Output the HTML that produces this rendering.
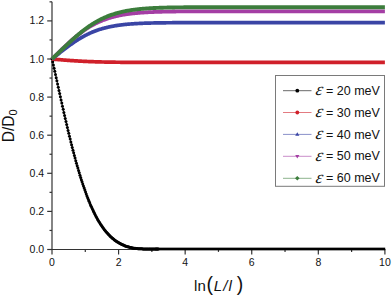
<!DOCTYPE html>
<html><head><meta charset="utf-8"><style>
html,body{margin:0;padding:0;background:#fff;}
body{width:392px;height:297px;overflow:hidden;}
svg{display:block;font-family:"Liberation Sans",sans-serif;fill:#111;}
</style></head><body>
<svg width="392" height="297" viewBox="0 0 392 297">
<rect width="392" height="297" fill="#fff"/>
<line x1="52.0" y1="1.85" x2="52.0" y2="249.5" stroke="#333" stroke-width="1.2"/>
<line x1="51.4" y1="249.5" x2="385.4" y2="249.5" stroke="#333" stroke-width="1.2"/>
<line x1="47.20" y1="249.50" x2="52.0" y2="249.50" stroke="#333" stroke-width="1.2"/>
<line x1="49.50" y1="230.45" x2="52.0" y2="230.45" stroke="#333" stroke-width="1.2"/>
<line x1="47.20" y1="211.40" x2="52.0" y2="211.40" stroke="#333" stroke-width="1.2"/>
<line x1="49.50" y1="192.35" x2="52.0" y2="192.35" stroke="#333" stroke-width="1.2"/>
<line x1="47.20" y1="173.30" x2="52.0" y2="173.30" stroke="#333" stroke-width="1.2"/>
<line x1="49.50" y1="154.25" x2="52.0" y2="154.25" stroke="#333" stroke-width="1.2"/>
<line x1="47.20" y1="135.20" x2="52.0" y2="135.20" stroke="#333" stroke-width="1.2"/>
<line x1="49.50" y1="116.15" x2="52.0" y2="116.15" stroke="#333" stroke-width="1.2"/>
<line x1="47.20" y1="97.10" x2="52.0" y2="97.10" stroke="#333" stroke-width="1.2"/>
<line x1="49.50" y1="78.05" x2="52.0" y2="78.05" stroke="#333" stroke-width="1.2"/>
<line x1="47.20" y1="59.00" x2="52.0" y2="59.00" stroke="#333" stroke-width="1.2"/>
<line x1="49.50" y1="39.95" x2="52.0" y2="39.95" stroke="#333" stroke-width="1.2"/>
<line x1="47.20" y1="20.90" x2="52.0" y2="20.90" stroke="#333" stroke-width="1.2"/>
<line x1="49.50" y1="1.85" x2="52.0" y2="1.85" stroke="#333" stroke-width="1.2"/>
<line x1="52.00" y1="249.5" x2="52.00" y2="254.50" stroke="#333" stroke-width="1.2"/>
<line x1="85.29" y1="249.5" x2="85.29" y2="251.90" stroke="#333" stroke-width="1.2"/>
<line x1="118.58" y1="249.5" x2="118.58" y2="254.50" stroke="#333" stroke-width="1.2"/>
<line x1="151.87" y1="249.5" x2="151.87" y2="251.90" stroke="#333" stroke-width="1.2"/>
<line x1="185.16" y1="249.5" x2="185.16" y2="254.50" stroke="#333" stroke-width="1.2"/>
<line x1="218.45" y1="249.5" x2="218.45" y2="251.90" stroke="#333" stroke-width="1.2"/>
<line x1="251.74" y1="249.5" x2="251.74" y2="254.50" stroke="#333" stroke-width="1.2"/>
<line x1="285.03" y1="249.5" x2="285.03" y2="251.90" stroke="#333" stroke-width="1.2"/>
<line x1="318.32" y1="249.5" x2="318.32" y2="254.50" stroke="#333" stroke-width="1.2"/>
<line x1="351.61" y1="249.5" x2="351.61" y2="251.90" stroke="#333" stroke-width="1.2"/>
<line x1="384.90" y1="249.5" x2="384.90" y2="254.50" stroke="#333" stroke-width="1.2"/>
<text x="44.2" y="253.00" text-anchor="end" font-size="10.5">0.0</text>
<text x="44.2" y="214.90" text-anchor="end" font-size="10.5">0.2</text>
<text x="44.2" y="176.80" text-anchor="end" font-size="10.5">0.4</text>
<text x="44.2" y="138.70" text-anchor="end" font-size="10.5">0.6</text>
<text x="44.2" y="100.60" text-anchor="end" font-size="10.5">0.8</text>
<text x="44.2" y="62.50" text-anchor="end" font-size="10.5">1.0</text>
<text x="44.2" y="24.40" text-anchor="end" font-size="10.5">1.2</text>
<text x="52.00" y="266" text-anchor="middle" font-size="10.5">0</text>
<text x="118.58" y="266" text-anchor="middle" font-size="10.5">2</text>
<text x="185.16" y="266" text-anchor="middle" font-size="10.5">4</text>
<text x="251.74" y="266" text-anchor="middle" font-size="10.5">6</text>
<text x="318.32" y="266" text-anchor="middle" font-size="10.5">8</text>
<text x="384.90" y="266" text-anchor="middle" font-size="10.5">10</text>
<path d="M52.00,58.65 L52.70,61.80 L53.40,64.96 L54.10,68.13 L54.80,71.31 L55.50,74.49 L56.19,77.68 L56.89,80.87 L57.59,84.06 L58.29,87.24 L58.99,90.43 L59.69,93.60 L60.39,96.76 L61.09,99.92 L61.79,103.06 L62.49,106.18 L63.19,109.29 L63.88,112.38 L64.58,115.45 L65.28,118.50 L65.98,121.52 L66.68,124.52 L67.38,127.49 L68.08,130.44 L68.78,133.35 L69.48,136.24 L70.18,139.09 L70.88,141.91 L71.57,144.69 L72.27,147.44 L72.97,150.16 L73.67,152.83 L74.37,155.47 L75.07,158.07 L75.77,160.63 L76.47,163.16 L77.17,165.64 L77.87,168.07 L78.57,170.47 L79.26,172.83 L79.96,175.14 L80.66,177.41 L81.36,179.64 L82.06,181.82 L82.76,183.96 L83.46,186.06 L84.16,188.11 L84.86,190.12 L85.56,192.08 L86.26,194.00 L86.95,195.88 L87.65,197.72 L88.35,199.51 L89.05,201.26 L89.75,202.96 L90.45,204.63 L91.15,206.25 L91.85,207.83 L92.55,209.37 L93.25,210.87 L93.95,212.32 L94.64,213.74 L95.34,215.12 L96.04,216.46 L96.74,217.76 L97.44,219.02 L98.14,220.25 L98.84,221.44 L99.54,222.59 L100.24,223.71 L100.94,224.79 L101.64,225.84 L102.33,226.86 L103.03,227.84 L103.73,228.79 L104.43,229.71 L105.13,230.60 L105.83,231.45 L106.53,232.28 L107.23,233.08 L107.93,233.85 L108.63,234.60 L109.33,235.31 L110.02,236.01 L110.72,236.67 L111.42,237.31 L112.12,237.93 L112.82,238.52 L113.52,239.09 L114.22,239.64 L114.92,240.17 L115.62,240.68 L116.32,241.17 L117.02,241.63 L117.71,242.08 L118.41,242.51 L119.11,242.92 L119.81,243.32 L120.51,243.69 L121.21,244.06 L121.91,244.40 L122.61,244.73 L123.31,245.05 L124.01,245.35 L124.71,245.64 L125.40,245.91 L126.10,246.17 L126.80,246.42 L127.50,246.65 L128.20,246.87 L128.90,247.08 L129.60,247.27 L130.30,247.45 L131.00,247.62 L131.70,247.77 L132.40,247.91 L133.09,248.04 L133.79,248.15 L134.49,248.26 L135.19,248.35 L135.89,248.44 L136.59,248.51 L137.29,248.58 L137.99,248.63 L138.69,248.69 L139.39,248.73 L140.09,248.77 L140.78,248.81 L141.48,248.84 L142.18,248.86 L142.88,248.89 L143.58,248.91 L144.28,248.93 L144.98,248.94 L145.68,248.96 L146.38,248.97 L147.08,248.98 L147.78,248.99 L148.47,249.00 L149.17,249.01 L149.87,249.01 L150.57,249.02 L151.27,249.03 L151.97,249.03 L152.67,249.04 L153.37,249.04 L154.07,249.05 L154.77,249.05 L155.47,249.05 L156.16,249.06 L156.86,249.06 L157.56,249.06 L158.26,249.06" fill="none" stroke="#000" stroke-width="0.8"/>
<circle cx="52.00" cy="58.65" r="1.5" fill="#000"/>
<circle cx="52.70" cy="61.80" r="1.5" fill="#000"/>
<circle cx="53.40" cy="64.96" r="1.5" fill="#000"/>
<circle cx="54.10" cy="68.13" r="1.5" fill="#000"/>
<circle cx="54.80" cy="71.31" r="1.5" fill="#000"/>
<circle cx="55.50" cy="74.49" r="1.5" fill="#000"/>
<circle cx="56.19" cy="77.68" r="1.5" fill="#000"/>
<circle cx="56.89" cy="80.87" r="1.5" fill="#000"/>
<circle cx="57.59" cy="84.06" r="1.5" fill="#000"/>
<circle cx="58.29" cy="87.24" r="1.5" fill="#000"/>
<circle cx="58.99" cy="90.43" r="1.5" fill="#000"/>
<circle cx="59.69" cy="93.60" r="1.5" fill="#000"/>
<circle cx="60.39" cy="96.76" r="1.5" fill="#000"/>
<circle cx="61.09" cy="99.92" r="1.5" fill="#000"/>
<circle cx="61.79" cy="103.06" r="1.5" fill="#000"/>
<circle cx="62.49" cy="106.18" r="1.5" fill="#000"/>
<circle cx="63.19" cy="109.29" r="1.5" fill="#000"/>
<circle cx="63.88" cy="112.38" r="1.5" fill="#000"/>
<circle cx="64.58" cy="115.45" r="1.5" fill="#000"/>
<circle cx="65.28" cy="118.50" r="1.5" fill="#000"/>
<circle cx="65.98" cy="121.52" r="1.5" fill="#000"/>
<circle cx="66.68" cy="124.52" r="1.5" fill="#000"/>
<circle cx="67.38" cy="127.49" r="1.5" fill="#000"/>
<circle cx="68.08" cy="130.44" r="1.5" fill="#000"/>
<circle cx="68.78" cy="133.35" r="1.5" fill="#000"/>
<circle cx="69.48" cy="136.24" r="1.5" fill="#000"/>
<circle cx="70.18" cy="139.09" r="1.5" fill="#000"/>
<circle cx="70.88" cy="141.91" r="1.5" fill="#000"/>
<circle cx="71.57" cy="144.69" r="1.5" fill="#000"/>
<circle cx="72.27" cy="147.44" r="1.5" fill="#000"/>
<circle cx="72.97" cy="150.16" r="1.5" fill="#000"/>
<circle cx="73.67" cy="152.83" r="1.5" fill="#000"/>
<circle cx="74.37" cy="155.47" r="1.5" fill="#000"/>
<circle cx="75.07" cy="158.07" r="1.5" fill="#000"/>
<circle cx="75.77" cy="160.63" r="1.5" fill="#000"/>
<circle cx="76.47" cy="163.16" r="1.5" fill="#000"/>
<circle cx="77.17" cy="165.64" r="1.5" fill="#000"/>
<circle cx="77.87" cy="168.07" r="1.5" fill="#000"/>
<circle cx="78.57" cy="170.47" r="1.5" fill="#000"/>
<circle cx="79.26" cy="172.83" r="1.5" fill="#000"/>
<circle cx="79.96" cy="175.14" r="1.5" fill="#000"/>
<circle cx="80.66" cy="177.41" r="1.5" fill="#000"/>
<circle cx="81.36" cy="179.64" r="1.5" fill="#000"/>
<circle cx="82.06" cy="181.82" r="1.5" fill="#000"/>
<circle cx="82.76" cy="183.96" r="1.5" fill="#000"/>
<circle cx="83.46" cy="186.06" r="1.5" fill="#000"/>
<circle cx="84.16" cy="188.11" r="1.5" fill="#000"/>
<circle cx="84.86" cy="190.12" r="1.5" fill="#000"/>
<circle cx="85.56" cy="192.08" r="1.5" fill="#000"/>
<circle cx="86.26" cy="194.00" r="1.5" fill="#000"/>
<circle cx="86.95" cy="195.88" r="1.5" fill="#000"/>
<circle cx="87.65" cy="197.72" r="1.5" fill="#000"/>
<circle cx="88.35" cy="199.51" r="1.5" fill="#000"/>
<circle cx="89.05" cy="201.26" r="1.5" fill="#000"/>
<circle cx="89.75" cy="202.96" r="1.5" fill="#000"/>
<circle cx="90.45" cy="204.63" r="1.5" fill="#000"/>
<circle cx="91.15" cy="206.25" r="1.5" fill="#000"/>
<circle cx="91.85" cy="207.83" r="1.5" fill="#000"/>
<circle cx="92.55" cy="209.37" r="1.5" fill="#000"/>
<circle cx="93.25" cy="210.87" r="1.5" fill="#000"/>
<circle cx="93.95" cy="212.32" r="1.5" fill="#000"/>
<circle cx="94.64" cy="213.74" r="1.5" fill="#000"/>
<circle cx="95.34" cy="215.12" r="1.5" fill="#000"/>
<circle cx="96.04" cy="216.46" r="1.5" fill="#000"/>
<circle cx="96.74" cy="217.76" r="1.5" fill="#000"/>
<circle cx="97.44" cy="219.02" r="1.5" fill="#000"/>
<circle cx="98.14" cy="220.25" r="1.5" fill="#000"/>
<circle cx="98.84" cy="221.44" r="1.5" fill="#000"/>
<circle cx="99.54" cy="222.59" r="1.5" fill="#000"/>
<circle cx="100.24" cy="223.71" r="1.5" fill="#000"/>
<circle cx="100.94" cy="224.79" r="1.5" fill="#000"/>
<circle cx="101.64" cy="225.84" r="1.5" fill="#000"/>
<circle cx="102.33" cy="226.86" r="1.5" fill="#000"/>
<circle cx="103.03" cy="227.84" r="1.5" fill="#000"/>
<circle cx="103.73" cy="228.79" r="1.5" fill="#000"/>
<circle cx="104.43" cy="229.71" r="1.5" fill="#000"/>
<circle cx="105.13" cy="230.60" r="1.5" fill="#000"/>
<circle cx="105.83" cy="231.45" r="1.5" fill="#000"/>
<circle cx="106.53" cy="232.28" r="1.5" fill="#000"/>
<circle cx="107.23" cy="233.08" r="1.5" fill="#000"/>
<circle cx="107.93" cy="233.85" r="1.5" fill="#000"/>
<circle cx="108.63" cy="234.60" r="1.5" fill="#000"/>
<circle cx="109.33" cy="235.31" r="1.5" fill="#000"/>
<circle cx="110.02" cy="236.01" r="1.5" fill="#000"/>
<circle cx="110.72" cy="236.67" r="1.5" fill="#000"/>
<circle cx="111.42" cy="237.31" r="1.5" fill="#000"/>
<circle cx="112.12" cy="237.93" r="1.5" fill="#000"/>
<circle cx="112.82" cy="238.52" r="1.5" fill="#000"/>
<circle cx="113.52" cy="239.09" r="1.5" fill="#000"/>
<circle cx="114.22" cy="239.64" r="1.5" fill="#000"/>
<circle cx="114.92" cy="240.17" r="1.5" fill="#000"/>
<circle cx="115.62" cy="240.68" r="1.5" fill="#000"/>
<circle cx="116.32" cy="241.17" r="1.5" fill="#000"/>
<circle cx="117.02" cy="241.63" r="1.5" fill="#000"/>
<circle cx="117.71" cy="242.08" r="1.5" fill="#000"/>
<circle cx="118.41" cy="242.51" r="1.5" fill="#000"/>
<circle cx="119.11" cy="242.92" r="1.5" fill="#000"/>
<circle cx="119.81" cy="243.32" r="1.5" fill="#000"/>
<circle cx="120.51" cy="243.69" r="1.5" fill="#000"/>
<circle cx="121.21" cy="244.06" r="1.5" fill="#000"/>
<circle cx="121.91" cy="244.40" r="1.5" fill="#000"/>
<circle cx="122.61" cy="244.73" r="1.5" fill="#000"/>
<circle cx="123.31" cy="245.05" r="1.5" fill="#000"/>
<circle cx="124.01" cy="245.35" r="1.5" fill="#000"/>
<circle cx="124.71" cy="245.64" r="1.5" fill="#000"/>
<circle cx="125.40" cy="245.91" r="1.5" fill="#000"/>
<circle cx="126.10" cy="246.17" r="1.5" fill="#000"/>
<circle cx="126.80" cy="246.42" r="1.5" fill="#000"/>
<circle cx="127.50" cy="246.65" r="1.5" fill="#000"/>
<circle cx="128.20" cy="246.87" r="1.5" fill="#000"/>
<circle cx="128.90" cy="247.08" r="1.5" fill="#000"/>
<circle cx="129.60" cy="247.27" r="1.5" fill="#000"/>
<circle cx="130.30" cy="247.45" r="1.5" fill="#000"/>
<circle cx="131.00" cy="247.62" r="1.5" fill="#000"/>
<circle cx="131.70" cy="247.77" r="1.5" fill="#000"/>
<circle cx="132.40" cy="247.91" r="1.5" fill="#000"/>
<circle cx="133.09" cy="248.04" r="1.5" fill="#000"/>
<circle cx="133.79" cy="248.15" r="1.5" fill="#000"/>
<circle cx="134.49" cy="248.26" r="1.5" fill="#000"/>
<circle cx="135.19" cy="248.35" r="1.5" fill="#000"/>
<circle cx="135.89" cy="248.44" r="1.5" fill="#000"/>
<circle cx="136.59" cy="248.51" r="1.5" fill="#000"/>
<circle cx="137.29" cy="248.58" r="1.5" fill="#000"/>
<circle cx="137.99" cy="248.63" r="1.5" fill="#000"/>
<circle cx="138.69" cy="248.69" r="1.5" fill="#000"/>
<circle cx="139.39" cy="248.73" r="1.5" fill="#000"/>
<circle cx="140.09" cy="248.77" r="1.5" fill="#000"/>
<circle cx="140.78" cy="248.81" r="1.5" fill="#000"/>
<circle cx="141.48" cy="248.84" r="1.5" fill="#000"/>
<circle cx="142.18" cy="248.86" r="1.5" fill="#000"/>
<circle cx="142.88" cy="248.89" r="1.5" fill="#000"/>
<circle cx="143.58" cy="248.91" r="1.5" fill="#000"/>
<circle cx="144.28" cy="248.93" r="1.5" fill="#000"/>
<circle cx="144.98" cy="248.94" r="1.5" fill="#000"/>
<circle cx="145.68" cy="248.96" r="1.5" fill="#000"/>
<circle cx="146.38" cy="248.97" r="1.5" fill="#000"/>
<circle cx="147.08" cy="248.98" r="1.5" fill="#000"/>
<circle cx="147.78" cy="248.99" r="1.5" fill="#000"/>
<circle cx="148.47" cy="249.00" r="1.5" fill="#000"/>
<circle cx="149.17" cy="249.01" r="1.5" fill="#000"/>
<circle cx="149.87" cy="249.01" r="1.5" fill="#000"/>
<circle cx="150.57" cy="249.02" r="1.5" fill="#000"/>
<circle cx="151.27" cy="249.03" r="1.5" fill="#000"/>
<circle cx="151.97" cy="249.03" r="1.5" fill="#000"/>
<circle cx="152.67" cy="249.04" r="1.5" fill="#000"/>
<circle cx="153.37" cy="249.04" r="1.5" fill="#000"/>
<circle cx="154.07" cy="249.05" r="1.5" fill="#000"/>
<circle cx="154.77" cy="249.05" r="1.5" fill="#000"/>
<circle cx="155.47" cy="249.05" r="1.5" fill="#000"/>
<circle cx="156.16" cy="249.06" r="1.5" fill="#000"/>
<circle cx="156.86" cy="249.06" r="1.5" fill="#000"/>
<circle cx="157.56" cy="249.06" r="1.5" fill="#000"/>
<circle cx="158.26" cy="249.06" r="1.5" fill="#000"/>
<rect x="155.20" y="247.65" width="230.00" height="2.7" fill="#000"/>
<path d="M52.00,59.00 L52.67,59.06 L53.33,59.12 L54.00,59.18 L54.66,59.24 L55.33,59.30 L55.99,59.36 L56.66,59.42 L57.33,59.48 L57.99,59.54 L58.66,59.60 L59.32,59.66 L59.99,59.71 L60.66,59.77 L61.32,59.83 L61.99,59.88 L62.65,59.94 L63.32,59.99 L63.98,60.04 L64.65,60.10 L65.32,60.15 L65.98,60.20 L66.65,60.25 L67.31,60.30 L67.98,60.35 L68.64,60.40 L69.31,60.45 L69.98,60.50 L70.64,60.54 L71.31,60.59 L71.97,60.64 L72.64,60.68 L73.31,60.72 L73.97,60.77 L74.64,60.81 L75.30,60.85 L75.97,60.89 L76.63,60.93 L77.30,60.97 L77.97,61.01 L78.63,61.05 L79.30,61.09 L79.96,61.13 L80.63,61.16 L81.30,61.20 L81.96,61.23 L82.63,61.27 L83.29,61.30 L83.96,61.33 L84.62,61.36 L85.29,61.40 L85.96,61.43 L86.62,61.46 L87.29,61.49 L87.95,61.51 L88.62,61.54 L89.28,61.57 L89.95,61.60 L90.62,61.62 L91.28,61.65 L91.95,61.67 L92.61,61.70 L93.28,61.72 L93.95,61.74 L94.61,61.77 L95.28,61.79 L95.94,61.81 L96.61,61.83 L97.27,61.85 L97.94,61.87 L98.61,61.89 L99.27,61.91 L99.94,61.93 L100.60,61.94 L101.27,61.96 L101.94,61.98 L102.60,61.99 L103.27,62.01 L103.93,62.02 L104.60,62.04 L105.26,62.05 L105.93,62.07 L106.60,62.08 L107.26,62.09 L107.93,62.10 L108.59,62.12 L109.26,62.13 L109.92,62.14 L110.59,62.15 L111.26,62.16 L111.92,62.17 L112.59,62.18 L113.25,62.19 L113.92,62.20 L114.59,62.21 L115.25,62.22 L115.92,62.23 L116.58,62.24 L117.25,62.24 L117.91,62.25 L118.58,62.26 L119.25,62.27 L119.91,62.27 L120.58,62.28 L121.24,62.28 L121.91,62.29 L122.57,62.30 L123.24,62.30 L123.91,62.31 L124.57,62.31 L125.24,62.32 L125.90,62.32 L126.57,62.33 L127.24,62.33 L127.90,62.34 L128.57,62.34 L129.23,62.34 L129.90,62.35 L130.56,62.35 L131.23,62.36 L131.90,62.36 L132.56,62.36 L133.23,62.37 L133.89,62.37 L134.56,62.37 L135.22,62.37 L135.89,62.38 L136.56,62.38 L137.22,62.38 L137.89,62.38 L138.55,62.39 L139.22,62.39 L139.89,62.39 L140.55,62.39 L141.22,62.39 L141.88,62.40 L142.55,62.40 L143.21,62.40 L143.88,62.40 L144.55,62.40 L145.21,62.40 L145.88,62.40 L146.54,62.41 L147.21,62.41 L147.88,62.41 L148.54,62.41 L149.21,62.41 L149.87,62.41 L150.54,62.41 L151.20,62.41 L151.87,62.41 L152.54,62.41 L153.20,62.42 L153.87,62.42 L154.53,62.42 L155.20,62.42 L155.86,62.42 L156.53,62.42 L157.20,62.42 L157.86,62.42 L158.53,62.42 L159.19,62.42 L159.86,62.42 L160.53,62.42 L161.19,62.42 L161.86,62.42 L162.52,62.42 L163.19,62.42 L163.85,62.42 L164.52,62.42 L165.19,62.42 L165.85,62.42 L166.52,62.42 L167.18,62.42 L167.85,62.43 L168.51,62.43 L169.18,62.43 L169.85,62.43 L170.51,62.43 L171.18,62.43 L171.84,62.43 L172.51,62.43 L173.18,62.43 L173.84,62.43 L174.51,62.43 L175.17,62.43 L175.84,62.43 L176.50,62.43 L177.17,62.43 L177.84,62.43 L178.50,62.43 L179.17,62.43 L179.83,62.43 L180.50,62.43 L181.17,62.43 L181.83,62.43 L182.50,62.43 L183.16,62.43 L183.83,62.43 L184.49,62.43 L185.16,62.43 L185.83,62.43 L186.49,62.43 L187.16,62.43 L187.82,62.43 L188.49,62.43 L189.15,62.43 L189.82,62.43 L190.49,62.43 L191.15,62.43 L191.82,62.43 L192.48,62.43 L193.15,62.43 L193.82,62.43 L194.48,62.43 L195.15,62.43 L195.81,62.43 L196.48,62.43 L197.14,62.43 L197.81,62.43 L198.48,62.43 L199.14,62.43 L199.81,62.43 L200.47,62.43 L201.14,62.43 L201.81,62.43 L202.47,62.43 L203.14,62.43 L203.80,62.43 L204.47,62.43 L205.13,62.43 L205.80,62.43 L206.47,62.43 L207.13,62.43 L207.80,62.43 L208.46,62.43 L209.13,62.43 L209.79,62.43 L210.46,62.43 L211.13,62.43 L211.79,62.43 L212.46,62.43 L213.12,62.43 L213.79,62.43 L214.46,62.43 L215.12,62.43 L215.79,62.43 L216.45,62.43 L217.12,62.43 L217.78,62.43 L218.45,62.43 L219.12,62.43 L219.78,62.43 L220.45,62.43 L221.11,62.43 L221.78,62.43 L222.44,62.43 L223.11,62.43 L223.78,62.43 L224.44,62.43 L225.11,62.43 L225.77,62.43 L226.44,62.43 L227.11,62.43 L227.77,62.43 L228.44,62.43 L229.10,62.43 L229.77,62.43 L230.43,62.43 L231.10,62.43 L231.77,62.43 L232.43,62.43 L233.10,62.43 L233.76,62.43 L234.43,62.43 L235.09,62.43 L235.76,62.43 L236.43,62.43 L237.09,62.43 L237.76,62.43 L238.42,62.43 L239.09,62.43 L239.76,62.43 L240.42,62.43 L241.09,62.43 L241.75,62.43 L242.42,62.43 L243.08,62.43 L243.75,62.43 L244.42,62.43 L245.08,62.43 L245.75,62.43 L246.41,62.43 L247.08,62.43 L247.75,62.43 L248.41,62.43 L249.08,62.43 L249.74,62.43 L250.41,62.43 L251.07,62.43 L251.74,62.43 L252.41,62.43 L253.07,62.43 L253.74,62.43 L254.40,62.43 L255.07,62.43 L255.73,62.43 L256.40,62.43 L257.07,62.43 L257.73,62.43 L258.40,62.43 L259.06,62.43 L259.73,62.43 L260.40,62.43 L261.06,62.43 L261.73,62.43 L262.39,62.43 L263.06,62.43 L263.72,62.43 L264.39,62.43 L265.06,62.43 L265.72,62.43 L266.39,62.43 L267.05,62.43 L267.72,62.43 L268.38,62.43 L269.05,62.43 L269.72,62.43 L270.38,62.43 L271.05,62.43 L271.71,62.43 L272.38,62.43 L273.05,62.43 L273.71,62.43 L274.38,62.43 L275.04,62.43 L275.71,62.43 L276.37,62.43 L277.04,62.43 L277.71,62.43 L278.37,62.43 L279.04,62.43 L279.70,62.43 L280.37,62.43 L281.04,62.43 L281.70,62.43 L282.37,62.43 L283.03,62.43 L283.70,62.43 L284.36,62.43 L285.03,62.43 L285.70,62.43 L286.36,62.43 L287.03,62.43 L287.69,62.43 L288.36,62.43 L289.02,62.43 L289.69,62.43 L290.36,62.43 L291.02,62.43 L291.69,62.43 L292.35,62.43 L293.02,62.43 L293.69,62.43 L294.35,62.43 L295.02,62.43 L295.68,62.43 L296.35,62.43 L297.01,62.43 L297.68,62.43 L298.35,62.43 L299.01,62.43 L299.68,62.43 L300.34,62.43 L301.01,62.43 L301.67,62.43 L302.34,62.43 L303.01,62.43 L303.67,62.43 L304.34,62.43 L305.00,62.43 L305.67,62.43 L306.34,62.43 L307.00,62.43 L307.67,62.43 L308.33,62.43 L309.00,62.43 L309.66,62.43 L310.33,62.43 L311.00,62.43 L311.66,62.43 L312.33,62.43 L312.99,62.43 L313.66,62.43 L314.33,62.43 L314.99,62.43 L315.66,62.43 L316.32,62.43 L316.99,62.43 L317.65,62.43 L318.32,62.43 L318.99,62.43 L319.65,62.43 L320.32,62.43 L320.98,62.43 L321.65,62.43 L322.31,62.43 L322.98,62.43 L323.65,62.43 L324.31,62.43 L324.98,62.43 L325.64,62.43 L326.31,62.43 L326.98,62.43 L327.64,62.43 L328.31,62.43 L328.97,62.43 L329.64,62.43 L330.30,62.43 L330.97,62.43 L331.64,62.43 L332.30,62.43 L332.97,62.43 L333.63,62.43 L334.30,62.43 L334.96,62.43 L335.63,62.43 L336.30,62.43 L336.96,62.43 L337.63,62.43 L338.29,62.43 L338.96,62.43 L339.63,62.43 L340.29,62.43 L340.96,62.43 L341.62,62.43 L342.29,62.43 L342.95,62.43 L343.62,62.43 L344.29,62.43 L344.95,62.43 L345.62,62.43 L346.28,62.43 L346.95,62.43 L347.62,62.43 L348.28,62.43 L348.95,62.43 L349.61,62.43 L350.28,62.43 L350.94,62.43 L351.61,62.43 L352.28,62.43 L352.94,62.43 L353.61,62.43 L354.27,62.43 L354.94,62.43 L355.60,62.43 L356.27,62.43 L356.94,62.43 L357.60,62.43 L358.27,62.43 L358.93,62.43 L359.60,62.43 L360.27,62.43 L360.93,62.43 L361.60,62.43 L362.26,62.43 L362.93,62.43 L363.59,62.43 L364.26,62.43 L364.93,62.43 L365.59,62.43 L366.26,62.43 L366.92,62.43 L367.59,62.43 L368.25,62.43 L368.92,62.43 L369.59,62.43 L370.25,62.43 L370.92,62.43 L371.58,62.43 L372.25,62.43 L372.92,62.43 L373.58,62.43 L374.25,62.43 L374.91,62.43 L375.58,62.43 L376.24,62.43 L376.91,62.43 L377.58,62.43 L378.24,62.43 L378.91,62.43 L379.57,62.43 L380.24,62.43 L380.91,62.43 L381.57,62.43 L382.24,62.43 L382.90,62.43 L383.57,62.43 L384.23,62.43 L384.90,62.43" fill="none" stroke="#d0202a" stroke-width="3.7"/>
<path d="M52.00,59.00 L52.67,58.48 L53.33,57.95 L54.00,57.42 L54.66,56.89 L55.33,56.37 L55.99,55.84 L56.66,55.31 L57.33,54.78 L57.99,54.25 L58.66,53.73 L59.32,53.20 L59.99,52.67 L60.66,52.15 L61.32,51.63 L61.99,51.10 L62.65,50.59 L63.32,50.07 L63.98,49.55 L64.65,49.04 L65.32,48.53 L65.98,48.03 L66.65,47.53 L67.31,47.03 L67.98,46.53 L68.64,46.04 L69.31,45.55 L69.98,45.07 L70.64,44.59 L71.31,44.12 L71.97,43.65 L72.64,43.18 L73.31,42.73 L73.97,42.27 L74.64,41.82 L75.30,41.38 L75.97,40.94 L76.63,40.51 L77.30,40.09 L77.97,39.67 L78.63,39.25 L79.30,38.85 L79.96,38.44 L80.63,38.05 L81.30,37.66 L81.96,37.28 L82.63,36.90 L83.29,36.53 L83.96,36.17 L84.62,35.81 L85.29,35.46 L85.96,35.12 L86.62,34.78 L87.29,34.45 L87.95,34.13 L88.62,33.81 L89.28,33.50 L89.95,33.19 L90.62,32.89 L91.28,32.60 L91.95,32.32 L92.61,32.04 L93.28,31.76 L93.95,31.50 L94.61,31.24 L95.28,30.98 L95.94,30.73 L96.61,30.49 L97.27,30.25 L97.94,30.02 L98.61,29.80 L99.27,29.58 L99.94,29.36 L100.60,29.15 L101.27,28.95 L101.94,28.75 L102.60,28.56 L103.27,28.37 L103.93,28.19 L104.60,28.01 L105.26,27.84 L105.93,27.67 L106.60,27.50 L107.26,27.35 L107.93,27.19 L108.59,27.04 L109.26,26.89 L109.92,26.75 L110.59,26.62 L111.26,26.48 L111.92,26.35 L112.59,26.23 L113.25,26.10 L113.92,25.99 L114.59,25.87 L115.25,25.76 L115.92,25.65 L116.58,25.55 L117.25,25.45 L117.91,25.35 L118.58,25.25 L119.25,25.16 L119.91,25.07 L120.58,24.99 L121.24,24.90 L121.91,24.82 L122.57,24.74 L123.24,24.67 L123.91,24.59 L124.57,24.52 L125.24,24.45 L125.90,24.39 L126.57,24.32 L127.24,24.26 L127.90,24.20 L128.57,24.14 L129.23,24.09 L129.90,24.03 L130.56,23.98 L131.23,23.93 L131.90,23.88 L132.56,23.84 L133.23,23.79 L133.89,23.75 L134.56,23.70 L135.22,23.66 L135.89,23.62 L136.56,23.59 L137.22,23.55 L137.89,23.51 L138.55,23.48 L139.22,23.45 L139.89,23.42 L140.55,23.38 L141.22,23.36 L141.88,23.33 L142.55,23.30 L143.21,23.27 L143.88,23.25 L144.55,23.22 L145.21,23.20 L145.88,23.18 L146.54,23.15 L147.21,23.13 L147.88,23.11 L148.54,23.09 L149.21,23.07 L149.87,23.06 L150.54,23.04 L151.20,23.02 L151.87,23.01 L152.54,22.99 L153.20,22.98 L153.87,22.96 L154.53,22.95 L155.20,22.93 L155.86,22.92 L156.53,22.91 L157.20,22.90 L157.86,22.89 L158.53,22.87 L159.19,22.86 L159.86,22.85 L160.53,22.84 L161.19,22.83 L161.86,22.83 L162.52,22.82 L163.19,22.81 L163.85,22.80 L164.52,22.79 L165.19,22.79 L165.85,22.78 L166.52,22.77 L167.18,22.76 L167.85,22.76 L168.51,22.75 L169.18,22.75 L169.85,22.74 L170.51,22.74 L171.18,22.73 L171.84,22.73 L172.51,22.72 L173.18,22.72 L173.84,22.71 L174.51,22.71 L175.17,22.70 L175.84,22.70 L176.50,22.70 L177.17,22.69 L177.84,22.69 L178.50,22.69 L179.17,22.68 L179.83,22.68 L180.50,22.68 L181.17,22.67 L181.83,22.67 L182.50,22.67 L183.16,22.67 L183.83,22.67 L184.49,22.66 L185.16,22.66 L185.83,22.66 L186.49,22.66 L187.16,22.65 L187.82,22.65 L188.49,22.65 L189.15,22.65 L189.82,22.65 L190.49,22.65 L191.15,22.65 L191.82,22.64 L192.48,22.64 L193.15,22.64 L193.82,22.64 L194.48,22.64 L195.15,22.64 L195.81,22.64 L196.48,22.64 L197.14,22.63 L197.81,22.63 L198.48,22.63 L199.14,22.63 L199.81,22.63 L200.47,22.63 L201.14,22.63 L201.81,22.63 L202.47,22.63 L203.14,22.63 L203.80,22.63 L204.47,22.63 L205.13,22.63 L205.80,22.63 L206.47,22.63 L207.13,22.62 L207.80,22.62 L208.46,22.62 L209.13,22.62 L209.79,22.62 L210.46,22.62 L211.13,22.62 L211.79,22.62 L212.46,22.62 L213.12,22.62 L213.79,22.62 L214.46,22.62 L215.12,22.62 L215.79,22.62 L216.45,22.62 L217.12,22.62 L217.78,22.62 L218.45,22.62 L219.12,22.62 L219.78,22.62 L220.45,22.62 L221.11,22.62 L221.78,22.62 L222.44,22.62 L223.11,22.62 L223.78,22.62 L224.44,22.62 L225.11,22.62 L225.77,22.62 L226.44,22.62 L227.11,22.62 L227.77,22.62 L228.44,22.62 L229.10,22.62 L229.77,22.62 L230.43,22.62 L231.10,22.62 L231.77,22.62 L232.43,22.62 L233.10,22.62 L233.76,22.62 L234.43,22.62 L235.09,22.62 L235.76,22.62 L236.43,22.62 L237.09,22.62 L237.76,22.62 L238.42,22.62 L239.09,22.62 L239.76,22.62 L240.42,22.62 L241.09,22.62 L241.75,22.62 L242.42,22.62 L243.08,22.62 L243.75,22.62 L244.42,22.62 L245.08,22.62 L245.75,22.62 L246.41,22.62 L247.08,22.62 L247.75,22.61 L248.41,22.61 L249.08,22.61 L249.74,22.61 L250.41,22.61 L251.07,22.61 L251.74,22.61 L252.41,22.61 L253.07,22.61 L253.74,22.61 L254.40,22.61 L255.07,22.61 L255.73,22.61 L256.40,22.61 L257.07,22.61 L257.73,22.61 L258.40,22.61 L259.06,22.61 L259.73,22.61 L260.40,22.61 L261.06,22.61 L261.73,22.61 L262.39,22.61 L263.06,22.61 L263.72,22.61 L264.39,22.61 L265.06,22.61 L265.72,22.61 L266.39,22.61 L267.05,22.61 L267.72,22.61 L268.38,22.61 L269.05,22.61 L269.72,22.61 L270.38,22.61 L271.05,22.61 L271.71,22.61 L272.38,22.61 L273.05,22.61 L273.71,22.61 L274.38,22.61 L275.04,22.61 L275.71,22.61 L276.37,22.61 L277.04,22.61 L277.71,22.61 L278.37,22.61 L279.04,22.61 L279.70,22.61 L280.37,22.61 L281.04,22.61 L281.70,22.61 L282.37,22.61 L283.03,22.61 L283.70,22.61 L284.36,22.61 L285.03,22.61 L285.70,22.61 L286.36,22.61 L287.03,22.61 L287.69,22.61 L288.36,22.61 L289.02,22.61 L289.69,22.61 L290.36,22.61 L291.02,22.61 L291.69,22.61 L292.35,22.61 L293.02,22.61 L293.69,22.61 L294.35,22.61 L295.02,22.61 L295.68,22.61 L296.35,22.61 L297.01,22.61 L297.68,22.61 L298.35,22.61 L299.01,22.61 L299.68,22.61 L300.34,22.61 L301.01,22.61 L301.67,22.61 L302.34,22.61 L303.01,22.61 L303.67,22.61 L304.34,22.61 L305.00,22.61 L305.67,22.61 L306.34,22.61 L307.00,22.61 L307.67,22.61 L308.33,22.61 L309.00,22.61 L309.66,22.61 L310.33,22.61 L311.00,22.61 L311.66,22.61 L312.33,22.61 L312.99,22.61 L313.66,22.61 L314.33,22.61 L314.99,22.61 L315.66,22.61 L316.32,22.61 L316.99,22.61 L317.65,22.61 L318.32,22.61 L318.99,22.61 L319.65,22.61 L320.32,22.61 L320.98,22.61 L321.65,22.61 L322.31,22.61 L322.98,22.61 L323.65,22.61 L324.31,22.61 L324.98,22.61 L325.64,22.61 L326.31,22.61 L326.98,22.61 L327.64,22.61 L328.31,22.61 L328.97,22.61 L329.64,22.61 L330.30,22.61 L330.97,22.61 L331.64,22.61 L332.30,22.61 L332.97,22.61 L333.63,22.61 L334.30,22.61 L334.96,22.61 L335.63,22.61 L336.30,22.61 L336.96,22.61 L337.63,22.61 L338.29,22.61 L338.96,22.61 L339.63,22.61 L340.29,22.61 L340.96,22.61 L341.62,22.61 L342.29,22.61 L342.95,22.61 L343.62,22.61 L344.29,22.61 L344.95,22.61 L345.62,22.61 L346.28,22.61 L346.95,22.61 L347.62,22.61 L348.28,22.61 L348.95,22.61 L349.61,22.61 L350.28,22.61 L350.94,22.61 L351.61,22.61 L352.28,22.61 L352.94,22.61 L353.61,22.61 L354.27,22.61 L354.94,22.61 L355.60,22.61 L356.27,22.61 L356.94,22.61 L357.60,22.61 L358.27,22.61 L358.93,22.61 L359.60,22.61 L360.27,22.61 L360.93,22.61 L361.60,22.61 L362.26,22.61 L362.93,22.61 L363.59,22.61 L364.26,22.61 L364.93,22.61 L365.59,22.61 L366.26,22.61 L366.92,22.61 L367.59,22.61 L368.25,22.61 L368.92,22.61 L369.59,22.61 L370.25,22.61 L370.92,22.61 L371.58,22.61 L372.25,22.61 L372.92,22.61 L373.58,22.61 L374.25,22.61 L374.91,22.61 L375.58,22.61 L376.24,22.61 L376.91,22.61 L377.58,22.61 L378.24,22.61 L378.91,22.61 L379.57,22.61 L380.24,22.61 L380.91,22.61 L381.57,22.61 L382.24,22.61 L382.90,22.61 L383.57,22.61 L384.23,22.61 L384.90,22.61" fill="none" stroke="#3a45a5" stroke-width="3.7"/>
<path d="M52.00,59.00 L52.67,58.35 L53.33,57.70 L54.00,57.05 L54.66,56.39 L55.33,55.74 L55.99,55.09 L56.66,54.43 L57.33,53.78 L57.99,53.13 L58.66,52.47 L59.32,51.82 L59.99,51.17 L60.66,50.52 L61.32,49.88 L61.99,49.23 L62.65,48.59 L63.32,47.95 L63.98,47.31 L64.65,46.68 L65.32,46.05 L65.98,45.42 L66.65,44.80 L67.31,44.18 L67.98,43.56 L68.64,42.95 L69.31,42.34 L69.98,41.74 L70.64,41.14 L71.31,40.55 L71.97,39.96 L72.64,39.38 L73.31,38.80 L73.97,38.23 L74.64,37.67 L75.30,37.11 L75.97,36.56 L76.63,36.02 L77.30,35.48 L77.97,34.95 L78.63,34.42 L79.30,33.90 L79.96,33.39 L80.63,32.89 L81.30,32.39 L81.96,31.90 L82.63,31.42 L83.29,30.94 L83.96,30.47 L84.62,30.01 L85.29,29.56 L85.96,29.12 L86.62,28.68 L87.29,28.25 L87.95,27.82 L88.62,27.41 L89.28,27.00 L89.95,26.60 L90.62,26.21 L91.28,25.82 L91.95,25.44 L92.61,25.07 L93.28,24.71 L93.95,24.35 L94.61,24.00 L95.28,23.66 L95.94,23.33 L96.61,23.00 L97.27,22.68 L97.94,22.37 L98.61,22.06 L99.27,21.76 L99.94,21.47 L100.60,21.18 L101.27,20.90 L101.94,20.63 L102.60,20.36 L103.27,20.10 L103.93,19.85 L104.60,19.60 L105.26,19.36 L105.93,19.12 L106.60,18.89 L107.26,18.67 L107.93,18.45 L108.59,18.24 L109.26,18.03 L109.92,17.83 L110.59,17.63 L111.26,17.44 L111.92,17.25 L112.59,17.07 L113.25,16.89 L113.92,16.72 L114.59,16.55 L115.25,16.39 L115.92,16.23 L116.58,16.07 L117.25,15.92 L117.91,15.78 L118.58,15.64 L119.25,15.50 L119.91,15.37 L120.58,15.24 L121.24,15.11 L121.91,14.99 L122.57,14.87 L123.24,14.75 L123.91,14.64 L124.57,14.53 L125.24,14.42 L125.90,14.32 L126.57,14.22 L127.24,14.13 L127.90,14.03 L128.57,13.94 L129.23,13.85 L129.90,13.77 L130.56,13.69 L131.23,13.61 L131.90,13.53 L132.56,13.45 L133.23,13.38 L133.89,13.31 L134.56,13.24 L135.22,13.17 L135.89,13.11 L136.56,13.05 L137.22,12.99 L137.89,12.93 L138.55,12.87 L139.22,12.82 L139.89,12.76 L140.55,12.71 L141.22,12.66 L141.88,12.62 L142.55,12.57 L143.21,12.52 L143.88,12.48 L144.55,12.44 L145.21,12.40 L145.88,12.36 L146.54,12.32 L147.21,12.28 L147.88,12.25 L148.54,12.21 L149.21,12.18 L149.87,12.15 L150.54,12.12 L151.20,12.09 L151.87,12.06 L152.54,12.03 L153.20,12.00 L153.87,11.98 L154.53,11.95 L155.20,11.93 L155.86,11.90 L156.53,11.88 L157.20,11.86 L157.86,11.84 L158.53,11.82 L159.19,11.80 L159.86,11.78 L160.53,11.76 L161.19,11.74 L161.86,11.73 L162.52,11.71 L163.19,11.69 L163.85,11.68 L164.52,11.66 L165.19,11.65 L165.85,11.64 L166.52,11.62 L167.18,11.61 L167.85,11.60 L168.51,11.59 L169.18,11.57 L169.85,11.56 L170.51,11.55 L171.18,11.54 L171.84,11.53 L172.51,11.52 L173.18,11.51 L173.84,11.50 L174.51,11.50 L175.17,11.49 L175.84,11.48 L176.50,11.47 L177.17,11.46 L177.84,11.46 L178.50,11.45 L179.17,11.44 L179.83,11.44 L180.50,11.43 L181.17,11.43 L181.83,11.42 L182.50,11.41 L183.16,11.41 L183.83,11.40 L184.49,11.40 L185.16,11.39 L185.83,11.39 L186.49,11.39 L187.16,11.38 L187.82,11.38 L188.49,11.37 L189.15,11.37 L189.82,11.37 L190.49,11.36 L191.15,11.36 L191.82,11.36 L192.48,11.35 L193.15,11.35 L193.82,11.35 L194.48,11.35 L195.15,11.34 L195.81,11.34 L196.48,11.34 L197.14,11.34 L197.81,11.33 L198.48,11.33 L199.14,11.33 L199.81,11.33 L200.47,11.32 L201.14,11.32 L201.81,11.32 L202.47,11.32 L203.14,11.32 L203.80,11.32 L204.47,11.31 L205.13,11.31 L205.80,11.31 L206.47,11.31 L207.13,11.31 L207.80,11.31 L208.46,11.31 L209.13,11.31 L209.79,11.30 L210.46,11.30 L211.13,11.30 L211.79,11.30 L212.46,11.30 L213.12,11.30 L213.79,11.30 L214.46,11.30 L215.12,11.30 L215.79,11.30 L216.45,11.30 L217.12,11.30 L217.78,11.29 L218.45,11.29 L219.12,11.29 L219.78,11.29 L220.45,11.29 L221.11,11.29 L221.78,11.29 L222.44,11.29 L223.11,11.29 L223.78,11.29 L224.44,11.29 L225.11,11.29 L225.77,11.29 L226.44,11.29 L227.11,11.29 L227.77,11.29 L228.44,11.29 L229.10,11.29 L229.77,11.29 L230.43,11.29 L231.10,11.29 L231.77,11.29 L232.43,11.29 L233.10,11.29 L233.76,11.28 L234.43,11.28 L235.09,11.28 L235.76,11.28 L236.43,11.28 L237.09,11.28 L237.76,11.28 L238.42,11.28 L239.09,11.28 L239.76,11.28 L240.42,11.28 L241.09,11.28 L241.75,11.28 L242.42,11.28 L243.08,11.28 L243.75,11.28 L244.42,11.28 L245.08,11.28 L245.75,11.28 L246.41,11.28 L247.08,11.28 L247.75,11.28 L248.41,11.28 L249.08,11.28 L249.74,11.28 L250.41,11.28 L251.07,11.28 L251.74,11.28 L252.41,11.28 L253.07,11.28 L253.74,11.28 L254.40,11.28 L255.07,11.28 L255.73,11.28 L256.40,11.28 L257.07,11.28 L257.73,11.28 L258.40,11.28 L259.06,11.28 L259.73,11.28 L260.40,11.28 L261.06,11.28 L261.73,11.28 L262.39,11.28 L263.06,11.28 L263.72,11.28 L264.39,11.28 L265.06,11.28 L265.72,11.28 L266.39,11.28 L267.05,11.28 L267.72,11.28 L268.38,11.28 L269.05,11.28 L269.72,11.28 L270.38,11.28 L271.05,11.28 L271.71,11.28 L272.38,11.28 L273.05,11.28 L273.71,11.28 L274.38,11.28 L275.04,11.28 L275.71,11.28 L276.37,11.28 L277.04,11.28 L277.71,11.28 L278.37,11.28 L279.04,11.28 L279.70,11.28 L280.37,11.28 L281.04,11.28 L281.70,11.28 L282.37,11.28 L283.03,11.28 L283.70,11.28 L284.36,11.28 L285.03,11.28 L285.70,11.28 L286.36,11.28 L287.03,11.28 L287.69,11.28 L288.36,11.28 L289.02,11.28 L289.69,11.28 L290.36,11.28 L291.02,11.28 L291.69,11.28 L292.35,11.28 L293.02,11.28 L293.69,11.28 L294.35,11.28 L295.02,11.28 L295.68,11.28 L296.35,11.28 L297.01,11.28 L297.68,11.28 L298.35,11.28 L299.01,11.28 L299.68,11.28 L300.34,11.28 L301.01,11.28 L301.67,11.28 L302.34,11.28 L303.01,11.28 L303.67,11.28 L304.34,11.28 L305.00,11.28 L305.67,11.28 L306.34,11.28 L307.00,11.28 L307.67,11.28 L308.33,11.28 L309.00,11.28 L309.66,11.28 L310.33,11.28 L311.00,11.28 L311.66,11.28 L312.33,11.28 L312.99,11.28 L313.66,11.28 L314.33,11.28 L314.99,11.28 L315.66,11.28 L316.32,11.28 L316.99,11.28 L317.65,11.28 L318.32,11.28 L318.99,11.28 L319.65,11.28 L320.32,11.28 L320.98,11.28 L321.65,11.28 L322.31,11.28 L322.98,11.28 L323.65,11.28 L324.31,11.28 L324.98,11.28 L325.64,11.28 L326.31,11.28 L326.98,11.28 L327.64,11.28 L328.31,11.28 L328.97,11.28 L329.64,11.28 L330.30,11.28 L330.97,11.28 L331.64,11.28 L332.30,11.28 L332.97,11.28 L333.63,11.28 L334.30,11.28 L334.96,11.28 L335.63,11.28 L336.30,11.28 L336.96,11.28 L337.63,11.28 L338.29,11.28 L338.96,11.28 L339.63,11.28 L340.29,11.28 L340.96,11.28 L341.62,11.28 L342.29,11.28 L342.95,11.28 L343.62,11.28 L344.29,11.28 L344.95,11.28 L345.62,11.28 L346.28,11.28 L346.95,11.28 L347.62,11.28 L348.28,11.28 L348.95,11.28 L349.61,11.28 L350.28,11.28 L350.94,11.28 L351.61,11.28 L352.28,11.28 L352.94,11.28 L353.61,11.28 L354.27,11.28 L354.94,11.28 L355.60,11.28 L356.27,11.28 L356.94,11.28 L357.60,11.28 L358.27,11.28 L358.93,11.28 L359.60,11.28 L360.27,11.28 L360.93,11.28 L361.60,11.28 L362.26,11.28 L362.93,11.28 L363.59,11.28 L364.26,11.28 L364.93,11.28 L365.59,11.28 L366.26,11.28 L366.92,11.28 L367.59,11.28 L368.25,11.28 L368.92,11.28 L369.59,11.28 L370.25,11.28 L370.92,11.28 L371.58,11.28 L372.25,11.28 L372.92,11.28 L373.58,11.28 L374.25,11.28 L374.91,11.28 L375.58,11.28 L376.24,11.28 L376.91,11.28 L377.58,11.28 L378.24,11.28 L378.91,11.28 L379.57,11.28 L380.24,11.28 L380.91,11.28 L381.57,11.28 L382.24,11.28 L382.90,11.28 L383.57,11.28 L384.23,11.28 L384.90,11.28" fill="none" stroke="#a43ea4" stroke-width="3.8"/>
<path d="M52.00,59.00 L52.67,58.38 L53.33,57.75 L54.00,57.12 L54.66,56.49 L55.33,55.86 L55.99,55.23 L56.66,54.60 L57.33,53.96 L57.99,53.33 L58.66,52.69 L59.32,52.05 L59.99,51.41 L60.66,50.78 L61.32,50.14 L61.99,49.50 L62.65,48.87 L63.32,48.23 L63.98,47.59 L64.65,46.96 L65.32,46.33 L65.98,45.70 L66.65,45.07 L67.31,44.44 L67.98,43.82 L68.64,43.20 L69.31,42.58 L69.98,41.96 L70.64,41.35 L71.31,40.74 L71.97,40.13 L72.64,39.53 L73.31,38.93 L73.97,38.34 L74.64,37.75 L75.30,37.16 L75.97,36.58 L76.63,36.01 L77.30,35.44 L77.97,34.87 L78.63,34.31 L79.30,33.76 L79.96,33.21 L80.63,32.66 L81.30,32.13 L81.96,31.60 L82.63,31.07 L83.29,30.55 L83.96,30.04 L84.62,29.53 L85.29,29.03 L85.96,28.54 L86.62,28.05 L87.29,27.57 L87.95,27.10 L88.62,26.63 L89.28,26.17 L89.95,25.72 L90.62,25.28 L91.28,24.84 L91.95,24.41 L92.61,23.98 L93.28,23.57 L93.95,23.16 L94.61,22.76 L95.28,22.36 L95.94,21.97 L96.61,21.59 L97.27,21.22 L97.94,20.85 L98.61,20.49 L99.27,20.14 L99.94,19.79 L100.60,19.45 L101.27,19.12 L101.94,18.80 L102.60,18.48 L103.27,18.17 L103.93,17.86 L104.60,17.56 L105.26,17.27 L105.93,16.99 L106.60,16.71 L107.26,16.43 L107.93,16.17 L108.59,15.91 L109.26,15.65 L109.92,15.41 L110.59,15.16 L111.26,14.93 L111.92,14.70 L112.59,14.47 L113.25,14.25 L113.92,14.04 L114.59,13.83 L115.25,13.63 L115.92,13.43 L116.58,13.24 L117.25,13.05 L117.91,12.87 L118.58,12.69 L119.25,12.52 L119.91,12.35 L120.58,12.19 L121.24,12.03 L121.91,11.87 L122.57,11.72 L123.24,11.58 L123.91,11.43 L124.57,11.30 L125.24,11.16 L125.90,11.03 L126.57,10.91 L127.24,10.78 L127.90,10.66 L128.57,10.55 L129.23,10.44 L129.90,10.33 L130.56,10.22 L131.23,10.12 L131.90,10.02 L132.56,9.92 L133.23,9.83 L133.89,9.74 L134.56,9.65 L135.22,9.57 L135.89,9.48 L136.56,9.40 L137.22,9.33 L137.89,9.25 L138.55,9.18 L139.22,9.11 L139.89,9.04 L140.55,8.97 L141.22,8.91 L141.88,8.85 L142.55,8.79 L143.21,8.73 L143.88,8.68 L144.55,8.62 L145.21,8.57 L145.88,8.52 L146.54,8.47 L147.21,8.42 L147.88,8.38 L148.54,8.33 L149.21,8.29 L149.87,8.25 L150.54,8.21 L151.20,8.17 L151.87,8.14 L152.54,8.10 L153.20,8.07 L153.87,8.03 L154.53,8.00 L155.20,7.97 L155.86,7.94 L156.53,7.91 L157.20,7.88 L157.86,7.86 L158.53,7.83 L159.19,7.81 L159.86,7.78 L160.53,7.76 L161.19,7.74 L161.86,7.72 L162.52,7.70 L163.19,7.68 L163.85,7.66 L164.52,7.64 L165.19,7.62 L165.85,7.60 L166.52,7.59 L167.18,7.57 L167.85,7.55 L168.51,7.54 L169.18,7.53 L169.85,7.51 L170.51,7.50 L171.18,7.49 L171.84,7.47 L172.51,7.46 L173.18,7.45 L173.84,7.44 L174.51,7.43 L175.17,7.42 L175.84,7.41 L176.50,7.40 L177.17,7.39 L177.84,7.38 L178.50,7.38 L179.17,7.37 L179.83,7.36 L180.50,7.35 L181.17,7.35 L181.83,7.34 L182.50,7.33 L183.16,7.33 L183.83,7.32 L184.49,7.31 L185.16,7.31 L185.83,7.30 L186.49,7.30 L187.16,7.29 L187.82,7.29 L188.49,7.28 L189.15,7.28 L189.82,7.28 L190.49,7.27 L191.15,7.27 L191.82,7.26 L192.48,7.26 L193.15,7.26 L193.82,7.25 L194.48,7.25 L195.15,7.25 L195.81,7.25 L196.48,7.24 L197.14,7.24 L197.81,7.24 L198.48,7.24 L199.14,7.23 L199.81,7.23 L200.47,7.23 L201.14,7.23 L201.81,7.23 L202.47,7.22 L203.14,7.22 L203.80,7.22 L204.47,7.22 L205.13,7.22 L205.80,7.22 L206.47,7.21 L207.13,7.21 L207.80,7.21 L208.46,7.21 L209.13,7.21 L209.79,7.21 L210.46,7.21 L211.13,7.21 L211.79,7.20 L212.46,7.20 L213.12,7.20 L213.79,7.20 L214.46,7.20 L215.12,7.20 L215.79,7.20 L216.45,7.20 L217.12,7.20 L217.78,7.20 L218.45,7.20 L219.12,7.20 L219.78,7.20 L220.45,7.20 L221.11,7.19 L221.78,7.19 L222.44,7.19 L223.11,7.19 L223.78,7.19 L224.44,7.19 L225.11,7.19 L225.77,7.19 L226.44,7.19 L227.11,7.19 L227.77,7.19 L228.44,7.19 L229.10,7.19 L229.77,7.19 L230.43,7.19 L231.10,7.19 L231.77,7.19 L232.43,7.19 L233.10,7.19 L233.76,7.19 L234.43,7.19 L235.09,7.19 L235.76,7.19 L236.43,7.19 L237.09,7.19 L237.76,7.19 L238.42,7.19 L239.09,7.19 L239.76,7.19 L240.42,7.19 L241.09,7.19 L241.75,7.19 L242.42,7.19 L243.08,7.19 L243.75,7.19 L244.42,7.19 L245.08,7.19 L245.75,7.19 L246.41,7.19 L247.08,7.19 L247.75,7.19 L248.41,7.19 L249.08,7.19 L249.74,7.19 L250.41,7.19 L251.07,7.19 L251.74,7.19 L252.41,7.18 L253.07,7.18 L253.74,7.18 L254.40,7.18 L255.07,7.18 L255.73,7.18 L256.40,7.18 L257.07,7.18 L257.73,7.18 L258.40,7.18 L259.06,7.18 L259.73,7.18 L260.40,7.18 L261.06,7.18 L261.73,7.18 L262.39,7.18 L263.06,7.18 L263.72,7.18 L264.39,7.18 L265.06,7.18 L265.72,7.18 L266.39,7.18 L267.05,7.18 L267.72,7.18 L268.38,7.18 L269.05,7.18 L269.72,7.18 L270.38,7.18 L271.05,7.18 L271.71,7.18 L272.38,7.18 L273.05,7.18 L273.71,7.18 L274.38,7.18 L275.04,7.18 L275.71,7.18 L276.37,7.18 L277.04,7.18 L277.71,7.18 L278.37,7.18 L279.04,7.18 L279.70,7.18 L280.37,7.18 L281.04,7.18 L281.70,7.18 L282.37,7.18 L283.03,7.18 L283.70,7.18 L284.36,7.18 L285.03,7.18 L285.70,7.18 L286.36,7.18 L287.03,7.18 L287.69,7.18 L288.36,7.18 L289.02,7.18 L289.69,7.18 L290.36,7.18 L291.02,7.18 L291.69,7.18 L292.35,7.18 L293.02,7.18 L293.69,7.18 L294.35,7.18 L295.02,7.18 L295.68,7.18 L296.35,7.18 L297.01,7.18 L297.68,7.18 L298.35,7.18 L299.01,7.18 L299.68,7.18 L300.34,7.18 L301.01,7.18 L301.67,7.18 L302.34,7.18 L303.01,7.18 L303.67,7.18 L304.34,7.18 L305.00,7.18 L305.67,7.18 L306.34,7.18 L307.00,7.18 L307.67,7.18 L308.33,7.18 L309.00,7.18 L309.66,7.18 L310.33,7.18 L311.00,7.18 L311.66,7.18 L312.33,7.18 L312.99,7.18 L313.66,7.18 L314.33,7.18 L314.99,7.18 L315.66,7.18 L316.32,7.18 L316.99,7.18 L317.65,7.18 L318.32,7.18 L318.99,7.18 L319.65,7.18 L320.32,7.18 L320.98,7.18 L321.65,7.18 L322.31,7.18 L322.98,7.18 L323.65,7.18 L324.31,7.18 L324.98,7.18 L325.64,7.18 L326.31,7.18 L326.98,7.18 L327.64,7.18 L328.31,7.18 L328.97,7.18 L329.64,7.18 L330.30,7.18 L330.97,7.18 L331.64,7.18 L332.30,7.18 L332.97,7.18 L333.63,7.18 L334.30,7.18 L334.96,7.18 L335.63,7.18 L336.30,7.18 L336.96,7.18 L337.63,7.18 L338.29,7.18 L338.96,7.18 L339.63,7.18 L340.29,7.18 L340.96,7.18 L341.62,7.18 L342.29,7.18 L342.95,7.18 L343.62,7.18 L344.29,7.18 L344.95,7.18 L345.62,7.18 L346.28,7.18 L346.95,7.18 L347.62,7.18 L348.28,7.18 L348.95,7.18 L349.61,7.18 L350.28,7.18 L350.94,7.18 L351.61,7.18 L352.28,7.18 L352.94,7.18 L353.61,7.18 L354.27,7.18 L354.94,7.18 L355.60,7.18 L356.27,7.18 L356.94,7.18 L357.60,7.18 L358.27,7.18 L358.93,7.18 L359.60,7.18 L360.27,7.18 L360.93,7.18 L361.60,7.18 L362.26,7.18 L362.93,7.18 L363.59,7.18 L364.26,7.18 L364.93,7.18 L365.59,7.18 L366.26,7.18 L366.92,7.18 L367.59,7.18 L368.25,7.18 L368.92,7.18 L369.59,7.18 L370.25,7.18 L370.92,7.18 L371.58,7.18 L372.25,7.18 L372.92,7.18 L373.58,7.18 L374.25,7.18 L374.91,7.18 L375.58,7.18 L376.24,7.18 L376.91,7.18 L377.58,7.18 L378.24,7.18 L378.91,7.18 L379.57,7.18 L380.24,7.18 L380.91,7.18 L381.57,7.18 L382.24,7.18 L382.90,7.18 L383.57,7.18 L384.23,7.18 L384.90,7.18" fill="none" stroke="#3c7d3c" stroke-width="3.9"/>
<rect x="275.5" y="75.5" width="109.0" height="110.80000000000001" fill="#fff" stroke="#7a7a7a" stroke-width="1"/>
<line x1="283" y1="90.7" x2="311.5" y2="90.7" stroke="#000000" stroke-width="0.7" stroke-opacity="0.85"/>
<circle cx="297.3" cy="90.7" r="1.9" fill="#000000"/>
<text transform="translate(315.0,95.30) skewX(-12)" font-family="Liberation Serif" font-style="italic" font-size="17.5">&#949;</text>
<text x="326.0" y="94.80" font-size="12.5">= 20 meV</text>
<line x1="283" y1="112.5" x2="311.5" y2="112.5" stroke="#d0202a" stroke-width="0.7" stroke-opacity="0.85"/>
<circle cx="297.3" cy="112.5" r="1.9" fill="#d0202a"/>
<text transform="translate(315.0,117.10) skewX(-12)" font-family="Liberation Serif" font-style="italic" font-size="17.5">&#949;</text>
<text x="326.0" y="116.60" font-size="12.5">= 30 meV</text>
<line x1="283" y1="134.4" x2="311.5" y2="134.4" stroke="#3a45a5" stroke-width="0.7" stroke-opacity="0.85"/>
<path d="M297.3,132.20000000000002 L299.40000000000003,135.8 L295.2,135.8 Z" fill="#3a45a5"/>
<text transform="translate(315.0,139.00) skewX(-12)" font-family="Liberation Serif" font-style="italic" font-size="17.5">&#949;</text>
<text x="326.0" y="138.50" font-size="12.5">= 40 meV</text>
<line x1="283" y1="156.3" x2="311.5" y2="156.3" stroke="#a43ea4" stroke-width="0.7" stroke-opacity="0.85"/>
<path d="M297.3,158.5 L299.40000000000003,154.9 L295.2,154.9 Z" fill="#a43ea4"/>
<text transform="translate(315.0,160.90) skewX(-12)" font-family="Liberation Serif" font-style="italic" font-size="17.5">&#949;</text>
<text x="326.0" y="160.40" font-size="12.5">= 50 meV</text>
<line x1="283" y1="178.3" x2="311.5" y2="178.3" stroke="#3c7d3c" stroke-width="0.7" stroke-opacity="0.85"/>
<path d="M297.3,176.0 L299.6,178.3 L297.3,180.60000000000002 L295.0,178.3 Z" fill="#3c7d3c"/>
<text transform="translate(315.0,182.90) skewX(-12)" font-family="Liberation Serif" font-style="italic" font-size="17.5">&#949;</text>
<text x="326.0" y="182.40" font-size="12.5">= 60 meV</text>
<text transform="translate(14.2,142.3) rotate(-90)" font-size="15.6">D/D<tspan font-size="11" dy="3.0">0</tspan></text>
<text x="194.1" y="290.8" font-size="15">ln</text>
<text x="206.4" y="290.8" font-size="19.5">(</text>
<text x="213.8" y="290.8" font-size="15" font-style="italic" letter-spacing="1.1">L/l</text>
<text x="236.8" y="290.8" font-size="19.5">)</text>
</svg>
</body></html>
